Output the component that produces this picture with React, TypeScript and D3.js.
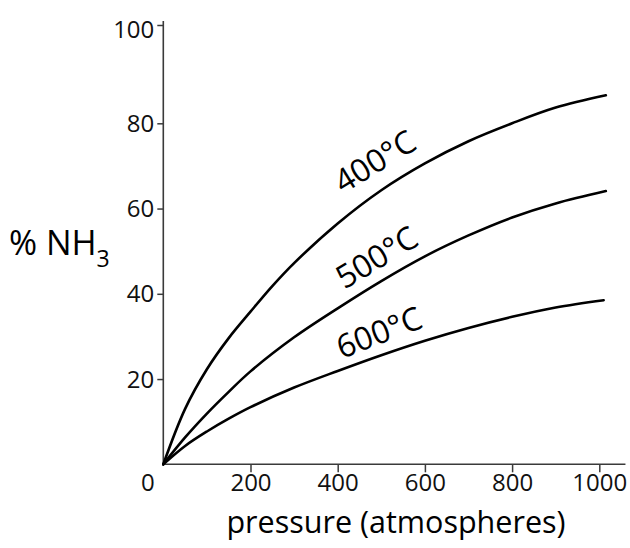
import React, { useEffect, useRef } from 'react'
import * as d3 from 'd3'

// pressure (atm) at which each curve was sampled
const pressure400 = [0, 50, 100, 150, 200, 250, 300, 400, 500, 600, 700, 800, 900, 1015]
const yield400 = [0, 13, 22.3, 29.6, 35.8, 41.8, 47.2, 56.5, 64.3, 70.6, 75.8, 80, 83.2, 85.7]

const pressure500 = [0, 50, 100, 150, 200, 300, 400, 500, 600, 700, 800, 900, 1015]
const yield500 = [0, 6.3, 11.9, 17, 21.8, 29.8, 36.6, 43, 48.8, 53.7, 57.9, 61.2, 64.1]

const pressure600 = [0, 50, 100, 150, 200, 300, 400, 500, 600, 700, 800, 900, 1010]
const yield600 = [0, 4.3, 7.7, 10.7, 13.4, 18, 21.9, 25.6, 29, 32, 34.6, 36.8, 38.5]

const xTicks = [0, 200, 400, 600, 800, 1000]
const yTicks = [20, 40, 60, 80, 100]

const curveLabels = ['400°C', '500°C', '600°C']

const width = 630
const height = 548
const font = '"Open Sans", "Noto Sans", sans-serif'

export default function App() {
    const ref = useRef<SVGSVGElement>(null)

    useEffect(() => {
        const svg = d3.select(ref.current)
        svg.selectAll('*').remove()

        const x = d3.scaleLinear().domain([0, 1000]).range([163.3, 599.3])
        // the original axis is not quite even: the 100 tick sits higher
        const y = d3.scaleLinear().domain([0, 80, 100]).range([464.3, 123.3, 25])

        const axisColor = '#3a3a3a'

        // y axis
        const yAxis = svg.append('g')
            .attr('transform', `translate(${x(0)},0)`)
            .call(d3.axisLeft(y).tickValues(yTicks).tickSize(6).tickSizeOuter(0).tickPadding(3))
        yAxis.select('.domain').remove()
        yAxis.selectAll('line').attr('stroke', axisColor).attr('stroke-width', 1.5)
        yAxis.selectAll('text')
            .attr('font-family', font)
            .attr('font-size', 24)
            .attr('fill', '#111')
            .attr('dy', (d: any) => (d === 100 ? '0.5em' : '0.34em'))

        // x axis
        const xAxis = svg.append('g')
            .attr('transform', `translate(0,${y(0)})`)
            .call(d3.axisBottom(x).tickValues(xTicks).tickFormat(d3.format('d')).tickSize(8).tickSizeOuter(0).tickPadding(2))
        xAxis.select('.domain').remove()
        xAxis.selectAll('line').attr('stroke', axisColor).attr('stroke-width', 1.5)
            .filter((d: any) => d === 0).remove()
        xAxis.selectAll('text')
            .attr('font-family', font)
            .attr('font-size', 24)
            .attr('fill', '#111')
            .attr('x', (d: any) => (d === 0 ? -16 : 0))

        // axis lines
        svg.append('line')
            .attr('x1', x(0)).attr('x2', x(0))
            .attr('y1', y(0)).attr('y2', y(100.8))
            .attr('stroke', axisColor).attr('stroke-width', 1.6)
        svg.append('line')
            .attr('x1', x(0)).attr('x2', x(1060))
            .attr('y1', y(0)).attr('y2', y(0))
            .attr('stroke', axisColor).attr('stroke-width', 1.6)

        // curves
        const series = [
            { p: pressure400, v: yield400 },
            { p: pressure500, v: yield500 },
            { p: pressure600, v: yield600 },
        ]
        const line = d3.line().curve(d3.curveCatmullRom.alpha(0.5))

        series.forEach(s => {
            const pts: [number, number][] = s.p.map((p, i) => [x(p), y(s.v[i])])
            svg.append('path')
                .attr('d', line(pts))
                .attr('fill', 'none')
                .attr('stroke', '#000')
                .attr('stroke-width', 2.6)
                .attr('stroke-linecap', 'round')
        })

        // curve labels, placed in data units
        const labelPos = [
            { px: 484, py: 71.3, angle: -31.5 },
            { px: 488, py: 48.8, angle: -31 },
            { px: 494, py: 31.2, angle: -21 },
        ]
        curveLabels.forEach((t, i) => {
            const lp = labelPos[i]
            svg.append('text')
                .attr('transform', `translate(${x(lp.px)},${y(lp.py)}) rotate(${lp.angle})`)
                .attr('text-anchor', 'middle')
                .attr('dominant-baseline', 'central')
                .attr('font-family', font)
                .attr('font-size', 32)
                .attr('fill', '#000')
                .text(t)
        })

        // axis titles
        svg.append('text')
            .attr('x', 396)
            .attr('y', 533)
            .attr('text-anchor', 'middle')
            .attr('font-family', font)
            .attr('font-size', 30.5)
            .attr('fill', '#000')
            .text('pressure (atmospheres)')

        const yt = svg.append('text')
            .attr('x', 9)
            .attr('y', 255)
            .attr('font-family', font)
            .attr('font-size', 34)
            .attr('fill', '#000')
        yt.append('tspan').text('% NH')
        yt.append('tspan').attr('font-size', 23).attr('dy', 12).text('3')
    }, [])

    return (
        <svg
            ref={ref}
            width={width}
            height={height}
            style={{ position: 'absolute', left: 0, top: 0, background: '#fff' }}
        />
    )
}
